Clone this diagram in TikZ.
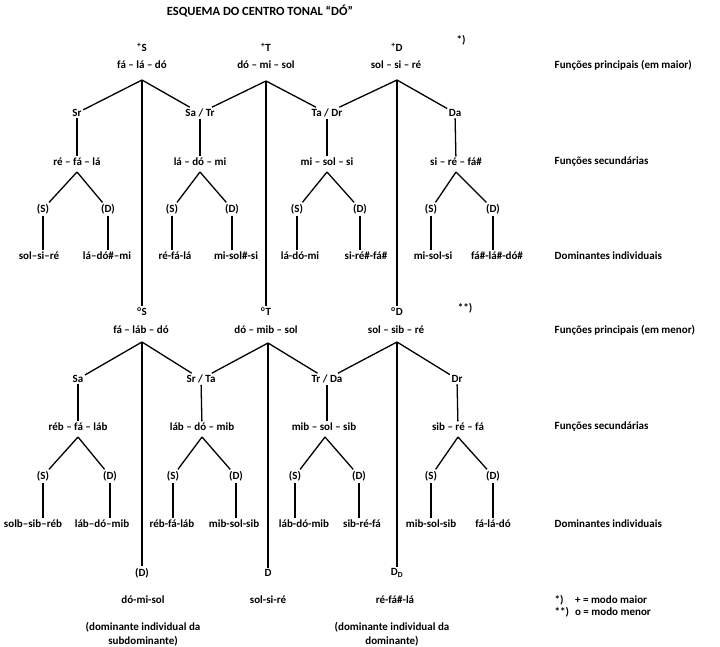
\documentclass[tikz,border=0pt]{standalone}
\usepackage{fontspec}
\setmainfont{Carlito}
\pgfdeclarelayer{bg}
\pgfsetlayers{bg,main}
\tikzset{
    every node/.style={inner sep=1.5pt, font=\bfseries\fontsize{11}{14}\selectfont},
    every edge/.style={draw, line width=1.3pt}
}
\tikzset{rowlabel/.style={anchor=west}}

\begin{document}
\begin{tikzpicture}[x=1pt, y=-1pt]
    \useasboundingbox (0,0) rectangle (720,646);
    \node (title) [font=\bfseries\fontsize{12.5}{15}\selectfont] at (260,11) {ESQUEMA DO CENTRO TONAL “DÓ”};

    % principal functions, major
    \node (tS) at (142,47) {\textsuperscript{+}S};
    \node (tT) at (266,47) {\textsuperscript{+}T};
    \node (tD) at (397,47) {\textsuperscript{+}D};
    \node (star1) at (461,40) {*)};
    \node (cS) at (142,65) {fá – lá – dó};
    \node (cT) at (266,65) {dó – mi – sol};
    \node (cD) at (396,65) {sol – si – ré};
    \coordinate (jS) at (142,80);
    \coordinate (jT) at (266,81);
    \coordinate (jD) at (397,80);

    % secondary functions, major
    \node (Sr) at (77,113) {Sr};
    \node (SaTr) at (200,113) {Sa / Tr};
    \node (TaDr) at (327,113) {Ta / Dr};
    \node (Da) at (455,113) {Da};
    \node (cSr) at (77,162) {ré – fá – lá};
    \node (cSaTr) at (200,162) {lá – dó – mi};
    \node (cTaDr) at (327,162) {mi – sol – si};
    \node (cDa) at (456,162) {si – ré – fá\#};
    \coordinate (jSr) at (77,172);
    \coordinate (jSaTr) at (200,172);
    \coordinate (jTaDr) at (327,172);
    \coordinate (jDa) at (456,172);

    % individual dominants, major
    \node (sSr) at (43,209) {(S)};
    \node (dSr) at (108,209) {(D)};
    \node (sSaTr) at (172,209) {(S)};
    \node (dSaTr) at (232,209) {(D)};
    \node (sTaDr) at (297,209) {(S)};
    \node (dTaDr) at (360,209) {(D)};
    \node (sDa) at (431,209) {(S)};
    \node (dDa) at (493,209) {(D)};
    \node (lsSr) at (39,256) {sol–si–ré};
    \node (ldSr) at (107,256) {lá–dó\#–mi};
    \node (lsSaTr) at (175,256) {ré-fá-lá};
    \node (ldSaTr) at (236,256) {mi-sol\#-si};
    \node (lsTaDr) at (300,256) {lá-dó-mi};
    \node (ldTaDr) at (366,256) {si-ré\#-fá\#};
    \node (lsDa) at (433,256) {mi-sol-si};
    \node (ldDa) at (497,256) {fá\#-lá\#-dó\#};

    % principal functions, minor
    \node (oS) at (142,312) {\textsuperscript{o}S};
    \node (oT) at (266,312) {\textsuperscript{o}T};
    \node (oD) at (397,312) {\textsuperscript{o}D};
    \node (star2) at (465,308) {**)};
    \node (cSm) at (141,330) {fá – láb – dó};
    \node (cTm) at (266,330) {dó – mib – sol};
    \node (cDm) at (396,330) {sol – sib – ré};
    \coordinate (jSm) at (142,342);
    \coordinate (jTm) at (268,343);
    \coordinate (jDm) at (397,342);

    % secondary functions, minor
    \node (Sa) at (78,379) {Sa};
    \node (SrTa) at (201,379) {Sr / Ta};
    \node (TrDa) at (327,379) {Tr / Da};
    \node (Dr) at (457,379) {Dr};
    \node (cSa) at (78,427) {réb – fá – láb};
    \node (cSrTa) at (202,427) {láb – dó – mib};
    \node (cTrDa) at (324,427) {mib – sol – sib};
    \node (cDr) at (458,427) {sib – ré – fá};
    \coordinate (jSa) at (78,437);
    \coordinate (jSrTa) at (202,437);
    \coordinate (jTrDa) at (325,437);
    \coordinate (jDr) at (458,437);

    % individual dominants, minor
    \node (sSa) at (43,476) {(S)};
    \node (dSa) at (110,476) {(D)};
    \node (sSrTa) at (173,476) {(S)};
    \node (dSrTa) at (236,476) {(D)};
    \node (sTrDa) at (295,476) {(S)};
    \node (dTrDa) at (359,476) {(D)};
    \node (sDr) at (431,476) {(S)};
    \node (dDr) at (493,476) {(D)};
    \node (lsSa) at (33,524) {solb–sib–réb};
    \node (ldSa) at (102,524) {láb–dó–mib};
    \node (lsSrTa) at (172,524) {réb-fá-láb};
    \node (ldSrTa) at (234,524) {mib-sol-sib};
    \node (lsTrDa) at (304,524) {láb-dó-mib};
    \node (ldTrDa) at (362,524) {sib-ré-fá};
    \node (lsDr) at (431,524) {mib-sol-sib};
    \node (ldDr) at (493,524) {fá-lá-dó};

    % bottom row
    \node (bS) at (142,573) {(D)};
    \node (bT) at (268,573) {D};
    \node (bD) at (397,573) {D\textsubscript{D}};
    \node (bcS) at (143,600) {dó-mi-sol};
    \node (bcT) at (268,600) {sol-si-ré};
    \node (bcD) at (395,600) {ré-fá\#-lá};
    \node (noteS) [align=center] at (143,634) {(dominante individual da\\subdominante)};
    \node (noteD) [align=center] at (392,634) {(dominante individual da\\dominante)};

    % row labels
    \node (r1) [rowlabel] at (553,65) {Funções principais (em maior)};
    \node (r2) [rowlabel] at (553,162) {Funções secundárias};
    \node (r3) [rowlabel] at (553,256) {Dominantes individuais};
    \node (r4) [rowlabel] at (553,330) {Funções principais (em menor)};
    \node (r5) [rowlabel] at (553,427) {Funções secundárias};
    \node (r6) [rowlabel] at (553,524) {Dominantes individuais};
    \node (legend) [rowlabel, align=left] at (553,607)
        {\begin{tabular}{@{}l@{\hspace{6pt}}l@{}}*) & + = modo maior\\[-2pt] **) & o = modo menor\end{tabular}};

    \begin{pgfonlayer}{bg}
        \draw (jS) edge (Sr);
        \draw (jS) edge (SaTr);
        \draw (jS) edge (oS);
        \draw (jT) edge (SaTr);
        \draw (jT) edge (TaDr);
        \draw (jT) edge (oT);
        \draw (jD) edge (TaDr);
        \draw (jD) edge (Da);
        \draw (jD) edge (oD);

        \draw (Sr) edge (cSr);
        \draw (SaTr) edge (cSaTr);
        \draw (TaDr) edge (cTaDr);
        \draw (Da) edge (cDa);
        \draw (jSr) edge (sSr);
        \draw (jSr) edge (dSr);
        \draw (jSaTr) edge (sSaTr);
        \draw (jSaTr) edge (dSaTr);
        \draw (jTaDr) edge (sTaDr);
        \draw (jTaDr) edge (dTaDr);
        \draw (jDa) edge (sDa);
        \draw (jDa) edge (dDa);
        \draw (sSr) edge (sSr |- lsSr.north);
        \draw (dSr) edge (dSr |- ldSr.north);
        \draw (sSaTr) edge (sSaTr |- lsSaTr.north);
        \draw (dSaTr) edge (dSaTr |- ldSaTr.north);
        \draw (sTaDr) edge (sTaDr |- lsTaDr.north);
        \draw (dTaDr) edge (dTaDr |- ldTaDr.north);
        \draw (sDa) edge (sDa |- lsDa.north);
        \draw (dDa) edge (dDa |- ldDa.north);

        \draw (jSm) edge (Sa);
        \draw (jSm) edge (SrTa);
        \draw (jSm) edge (bS);
        \draw (jTm) edge (SrTa);
        \draw (jTm) edge (TrDa);
        \draw (jTm) edge (bT);
        \draw (jDm) edge (TrDa);
        \draw (jDm) edge (Dr);
        \draw (jDm) edge (bD);

        \draw (Sa) edge (cSa);
        \draw (SrTa) edge (cSrTa);
        \draw (TrDa) edge (TrDa |- cTrDa.north);
        \draw (Dr) edge (cDr);
        \draw (jSa) edge (sSa);
        \draw (jSa) edge (dSa);
        \draw (jSrTa) edge (sSrTa);
        \draw (jSrTa) edge (dSrTa);
        \draw (jTrDa) edge (sTrDa);
        \draw (jTrDa) edge (dTrDa);
        \draw (jDr) edge (sDr);
        \draw (jDr) edge (dDr);
        \draw (sSa) edge (sSa |- lsSa.north);
        \draw (dSa) edge (dSa |- ldSa.north);
        \draw (sSrTa) edge (sSrTa |- lsSrTa.north);
        \draw (dSrTa) edge (dSrTa |- ldSrTa.north);
        \draw (sTrDa) edge (sTrDa |- lsTrDa.north);
        \draw (dTrDa) edge (dTrDa |- ldTrDa.north);
        \draw (sDr) edge (sDr |- lsDr.north);
        \draw (dDr) edge (dDr |- ldDr.north);
    \end{pgfonlayer}
\end{tikzpicture}
\end{document}
